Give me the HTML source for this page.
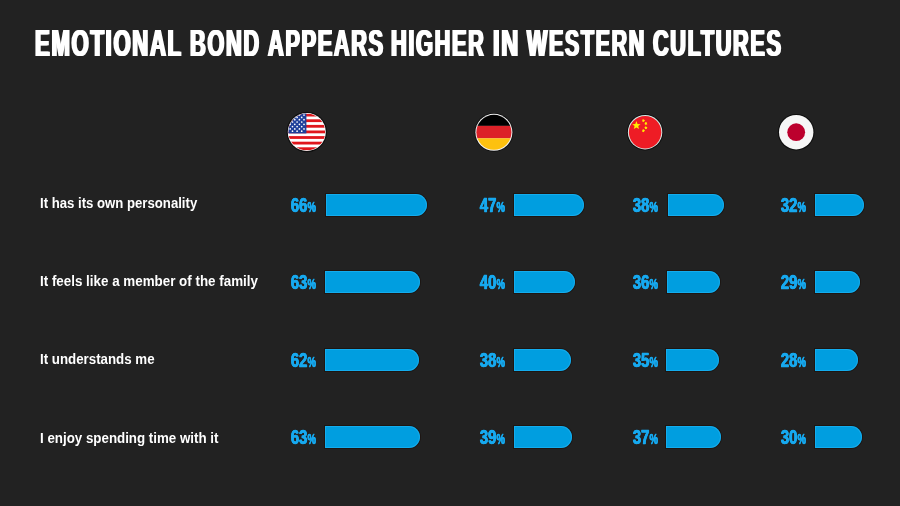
<!DOCTYPE html>
<html lang="en">
<head>
<meta charset="utf-8">
<title>Emotional bond appears higher in western cultures</title>
<style>
html,body{margin:0;padding:0;}
body{width:900px;height:506px;background:#222222;overflow:hidden;position:relative;font-family:"Liberation Sans",sans-serif;}
.t{position:absolute;white-space:nowrap;transform-origin:0 0;line-height:1;display:block;}
#title{position:absolute;margin:0;left:35px;top:26px;font-size:36px;line-height:1;font-weight:bold;color:#fff;letter-spacing:2.7px;text-shadow:1.6px 0 0 #fff,-1.6px 0 0 #fff;}
.lab{left:40.4px;font-size:14px;font-weight:bold;color:#fff;transform:scaleX(.94);}
.num{font-size:19.5px;font-weight:bold;color:#17a9ef;transform-origin:100% 0;transform:scaleX(.76);text-shadow:.6px 0 0 #17a9ef,-.6px 0 0 #17a9ef;-webkit-text-stroke:.45px #17a9ef;}
.num small{font-size:15.5px;display:inline-block;transform-origin:0 100%;transform:scaleX(.8);margin-right:-2.76px;text-shadow:.35px 0 0 #17a9ef,-.35px 0 0 #17a9ef;-webkit-text-stroke:.3px #17a9ef;}
.bar{position:absolute;height:22px;background:#009ee0;border-radius:0 11px 11px 0;box-shadow:0 0 0 1px rgba(25,8,0,.45),inset 0 0 0 1px rgba(40,185,250,.5);}
svg{position:absolute;left:0;top:0;}
</style>
</head>
<body>
<h1 id="title"><span class="t" style="left:0px;top:0;transform:scaleX(0.615)">EMOTIONAL</span> <span class="t" style="left:155px;top:0;transform:scaleX(0.606)">BOND</span> <span class="t" style="left:232.5px;top:0;transform:scaleX(0.605)">APPEARS</span> <span class="t" style="left:355.9px;top:0;transform:scaleX(0.605)">HIGHER</span> <span class="t" style="left:457.8px;top:0;transform:scaleX(0.655)">IN</span> <span class="t" style="left:492.0px;top:0;transform:scaleX(0.598)">WESTERN</span> <span class="t" style="left:617.6px;top:0;transform:scaleX(0.603)">CULTURES</span></h1>

<div class="t lab" style="top:196px">It has its own personality</div>
<div class="t lab" style="top:274px;transform:scaleX(.956)">It feels like a member of the family</div>
<div class="t lab" style="top:352px;transform:scaleX(.95)">It understands me</div>
<div class="t lab" style="top:431px;transform:scaleX(.952)">I enjoy spending time with it</div>

<!-- row 1 -->
<div class="t num" style="right:584.1px;top:195.6px">66<small>%</small></div><div class="bar" style="left:325.6px;top:194.0px;width:101.4px"></div>
<div class="t num" style="right:395.7px;top:195.6px">47<small>%</small></div><div class="bar" style="left:514.0px;top:194.0px;width:70.1px"></div>
<div class="t num" style="right:242.1px;top:195.6px">38<small>%</small></div><div class="bar" style="left:667.5px;top:194.0px;width:56.3px"></div>
<div class="t num" style="right:93.8px;top:195.6px">32<small>%</small></div><div class="bar" style="left:815.1px;top:194.0px;width:49.3px"></div>
<!-- row 2 -->
<div class="t num" style="right:584.1px;top:273.0px">63<small>%</small></div><div class="bar" style="left:325.4px;top:271.4px;width:95.0px"></div>
<div class="t num" style="right:395.7px;top:273.0px">40<small>%</small></div><div class="bar" style="left:513.8px;top:271.4px;width:60.9px"></div>
<div class="t num" style="right:242.1px;top:273.0px">36<small>%</small></div><div class="bar" style="left:667.3px;top:271.4px;width:53.1px"></div>
<div class="t num" style="right:93.8px;top:273.0px">29<small>%</small></div><div class="bar" style="left:815.0px;top:271.4px;width:45.0px"></div>
<!-- row 3 -->
<div class="t num" style="right:584.1px;top:350.6px">62<small>%</small></div><div class="bar" style="left:325.4px;top:349.0px;width:93.3px"></div>
<div class="t num" style="right:395.7px;top:350.6px">38<small>%</small></div><div class="bar" style="left:513.9px;top:349.0px;width:56.7px"></div>
<div class="t num" style="right:242.1px;top:350.6px">35<small>%</small></div><div class="bar" style="left:665.7px;top:349.0px;width:53.0px"></div>
<div class="t num" style="right:93.8px;top:350.6px">28<small>%</small></div><div class="bar" style="left:815.0px;top:349.0px;width:43.2px"></div>
<!-- row 4 -->
<div class="t num" style="right:584.1px;top:428.0px">63<small>%</small></div><div class="bar" style="left:325.4px;top:426.4px;width:95.0px"></div>
<div class="t num" style="right:395.7px;top:428.0px">39<small>%</small></div><div class="bar" style="left:513.9px;top:426.4px;width:58.1px"></div>
<div class="t num" style="right:242.1px;top:428.0px">37<small>%</small></div><div class="bar" style="left:665.7px;top:426.4px;width:55.6px"></div>
<div class="t num" style="right:93.8px;top:428.0px">30<small>%</small></div><div class="bar" style="left:815.0px;top:426.4px;width:46.8px"></div>

<svg width="900" height="506" viewBox="0 0 900 506">
<defs>
<clipPath id="cus"><circle cx="306.8" cy="132" r="18.4"/></clipPath>
<clipPath id="cde"><circle cx="493.9" cy="132.3" r="17.5"/></clipPath>
</defs>
<!-- USA -->
<circle cx="306.8" cy="132" r="20.2" fill="#0e0e0e"/>
<circle cx="306.8" cy="132" r="19" fill="#fff"/>
<g clip-path="url(#cus)">
<rect x="288" y="113.7" width="38" height="36.6" fill="#fff"/>
<g fill="#e0161c">
<rect x="288" y="113.7" width="38" height="2.8"/>
<rect x="288" y="119.3" width="38" height="2.8"/>
<rect x="288" y="124.9" width="38" height="2.8"/>
<rect x="288" y="130.5" width="38" height="2.8"/>
<rect x="288" y="136.1" width="38" height="2.8"/>
<rect x="288" y="141.7" width="38" height="2.8"/>
<rect x="288" y="147.3" width="38" height="3"/>
</g>
<rect x="287" y="113" width="19.4" height="20.4" fill="#1f3f9a"/>
<g fill="#fff"><circle cx="304.0" cy="115.1" r="0.85"/><circle cx="299.4" cy="115.1" r="0.85"/><circle cx="294.8" cy="115.1" r="0.85"/><circle cx="290.2" cy="115.1" r="0.85"/><circle cx="301.7" cy="117.4" r="0.85"/><circle cx="297.1" cy="117.4" r="0.85"/><circle cx="292.5" cy="117.4" r="0.85"/><circle cx="287.9" cy="117.4" r="0.85"/><circle cx="304.0" cy="119.7" r="0.85"/><circle cx="299.4" cy="119.7" r="0.85"/><circle cx="294.8" cy="119.7" r="0.85"/><circle cx="290.2" cy="119.7" r="0.85"/><circle cx="301.7" cy="122.0" r="0.85"/><circle cx="297.1" cy="122.0" r="0.85"/><circle cx="292.5" cy="122.0" r="0.85"/><circle cx="287.9" cy="122.0" r="0.85"/><circle cx="304.0" cy="124.3" r="0.85"/><circle cx="299.4" cy="124.3" r="0.85"/><circle cx="294.8" cy="124.3" r="0.85"/><circle cx="290.2" cy="124.3" r="0.85"/><circle cx="301.7" cy="126.6" r="0.85"/><circle cx="297.1" cy="126.6" r="0.85"/><circle cx="292.5" cy="126.6" r="0.85"/><circle cx="287.9" cy="126.6" r="0.85"/><circle cx="304.0" cy="128.9" r="0.85"/><circle cx="299.4" cy="128.9" r="0.85"/><circle cx="294.8" cy="128.9" r="0.85"/><circle cx="290.2" cy="128.9" r="0.85"/><circle cx="301.7" cy="131.2" r="0.85"/><circle cx="297.1" cy="131.2" r="0.85"/><circle cx="292.5" cy="131.2" r="0.85"/><circle cx="287.9" cy="131.2" r="0.85"/></g>
</g>
<!-- Germany -->
<circle cx="493.9" cy="132.3" r="19.4" fill="#0e0e0e"/>
<circle cx="493.9" cy="132.3" r="18.5" fill="#f2f2f2"/>
<g clip-path="url(#cde)">
<rect x="475" y="113" width="38" height="12.9" fill="#000"/>
<rect x="475" y="125.9" width="38" height="12.4" fill="#dc2128"/>
<rect x="475" y="138.3" width="38" height="14" fill="#fdc10f"/>
</g>
<!-- China -->
<circle cx="645.1" cy="132.2" r="18.2" fill="#0e0e0e"/>
<circle cx="645.1" cy="132.2" r="17.2" fill="#d6ebe8"/>
<circle cx="645.1" cy="132.2" r="16.2" fill="#ee1c25"/>
<g fill="#fff000"><polygon points="636.40,121.10 637.52,123.96 640.58,124.14 638.21,126.09 638.99,129.06 636.40,127.40 633.81,129.06 634.59,126.09 632.22,124.14 635.28,123.96"/><polygon points="642.00,121.57 642.40,120.58 642.05,119.57 643.11,119.64 643.96,119.00 644.22,120.03 645.10,120.64 644.19,121.21 643.89,122.23 643.07,121.54"/><polygon points="644.23,123.93 644.99,123.18 645.07,122.12 646.02,122.61 647.06,122.35 646.88,123.41 647.44,124.31 646.39,124.47 645.70,125.29 645.22,124.33"/><polygon points="644.25,127.40 645.25,127.04 645.77,126.11 646.42,126.95 647.47,127.15 646.87,128.03 647.00,129.09 645.98,128.80 645.01,129.25 644.98,128.18"/><polygon points="642.03,129.70 643.09,129.75 643.93,129.09 644.21,130.12 645.10,130.71 644.21,131.29 643.92,132.32 643.09,131.65 642.02,131.69 642.40,130.70"/></g>
<!-- Japan -->
<circle cx="796.2" cy="132.2" r="18.3" fill="#0e0e0e"/>
<circle cx="796.2" cy="132.2" r="17.2" fill="#f6f6f6"/>
<circle cx="796.2" cy="132.2" r="8.9" fill="#bc002d"/>
</svg>
</body>
</html>
